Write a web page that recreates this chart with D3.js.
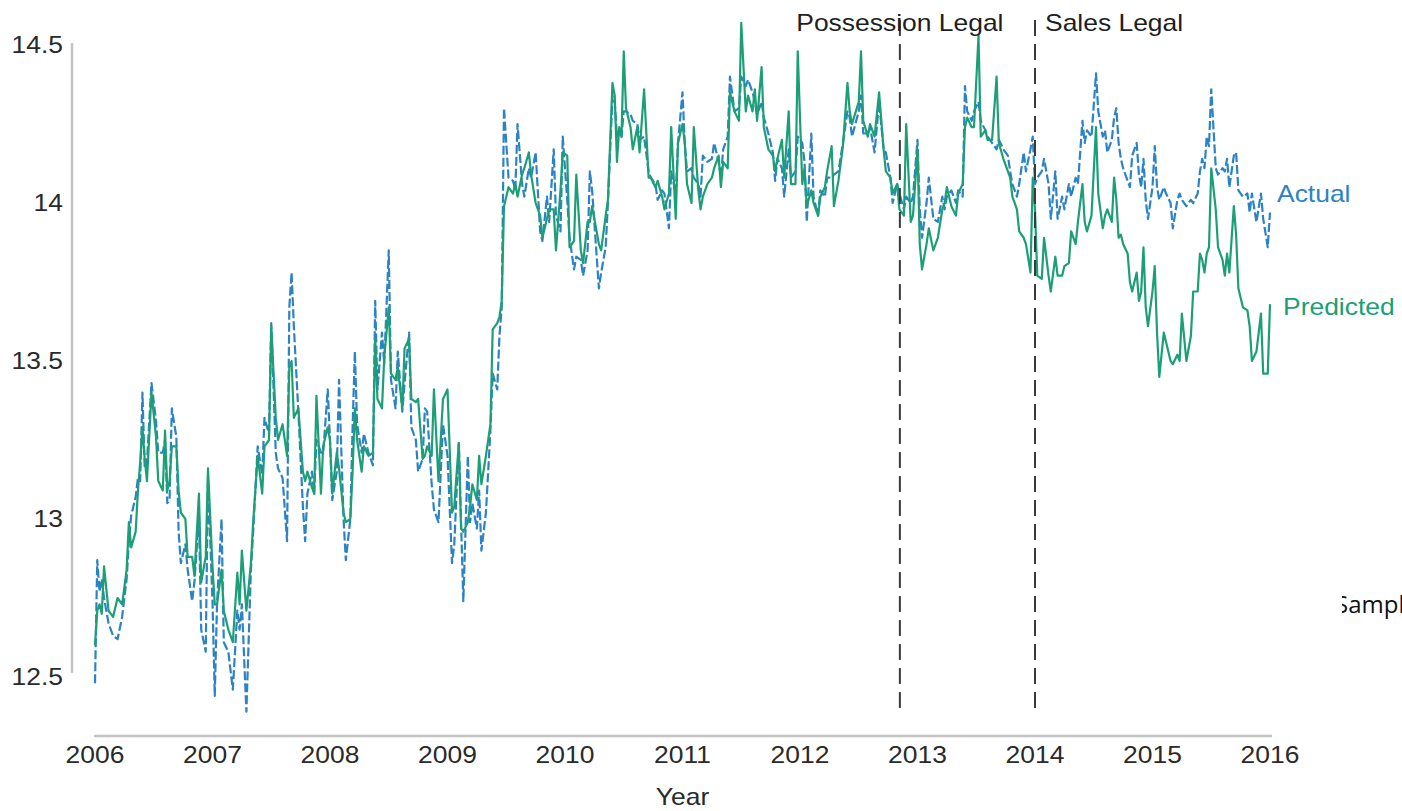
<!DOCTYPE html>
<html>
<head>
<meta charset="utf-8">
<script src="https://cdn.jsdelivr.net/npm/d3@7"></script>
<style>
  html, body { margin: 0; padding: 0; background: #fff; overflow: hidden; }
  svg text { font-family: "Liberation Sans", Arial, Helvetica, sans-serif; }
</style>
</head>
<body>
<svg id="chart" width="1402" height="811"></svg>
<script>
// weeks since the start of 2006 (52 per year)
const weeks = [
  0,1,2,3,4,6,8,10,12,14,
  15,16,18,19,20,21,22,23,25,27,
  28,30,31,32,33,34,36,37,38,40,
  41,43,44,46,47,49,50,52,53,54,
  56,57,59,61,63,64,65,67,69,70,
  72,74,75,77,78,80,81,83,85,86,
  87,88,90,92,93,94,96,97,98,100,
  101,103,104,105,107,108,110,111,113,114,
  115,116,118,119,121,123,124,125,127,128,
  130,131,133,134,136,137,139,140,142,143,
  145,146,147,149,150,152,154,156,158,159,
  161,162,163,165,166,167,169,170,171,173,
  175,176,178,179,180,181,183,185,186,187,
  189,190,192,193,195,197,198,200,201,203,
  204,206,207,209,210,212,213,215,216,218,
  219,220,223,224,226,227,229,230,231,232,
  233,234,235,237,238,240,241,243,245,246,
  248,249,251,252,254,255,257,258,260,261,
  262,264,265,267,268,269,271,273,274,276,
  277,278,280,281,283,285,286,288,289,291,
  292,293,295,296,298,300,301,302,304,305,
  307,308,310,311,313,314,315,317,318,320,
  321,323,324,326,327,329,331,333,334,335,
  338,339,340,342,343,345,347,349,350,352,
  353,355,356,358,359,361,362,364,365,366,
  368,369,371,373,375,376,377,379,381,382,
  384,385,386,388,389,391,392,394,395,397,
  399,400,402,404,405,406,408,409,411,412,
  414,415,416,417,419,420,422,423,425,426,
  428,429,431,432,434,435,437,438,439,441,
  443,444,446,447,448,450,451,452,453,454,
  455,457,458,459,461,462,463,464,465,466,
  468,469,470,471,473,474,476,477,479,480,
  481,483,485,486,488,489,490,491,492,493,
  494,496,497,499,500,501,502,504,505,506,
  508,510,511,512,514,516,517,519,520
];

const predicted = [
  12.60,12.71,12.73,12.70,12.85,12.71,12.69,12.75,12.73,12.84,
  12.99,12.91,12.96,13.09,13.18,13.29,13.19,13.12,13.40,13.26,
  13.12,13.09,13.28,13.09,13.12,13.23,13.23,13.09,13.02,13.00,
  12.88,12.88,12.82,13.08,12.80,12.88,13.16,12.85,12.73,12.73,
  12.84,12.71,12.65,12.61,12.83,12.73,12.90,12.71,12.86,12.99,
  13.20,13.08,13.23,13.25,13.61,13.32,13.25,13.30,13.20,13.48,
  13.50,13.32,13.35,13.15,13.12,13.15,13.10,13.08,13.39,13.08,
  13.23,13.29,13.25,13.08,13.21,13.16,13.02,12.99,13.00,13.15,
  13.35,13.25,13.15,13.23,13.20,13.21,13.57,13.38,13.35,13.51,
  13.67,13.46,13.44,13.48,13.35,13.54,13.57,13.38,13.37,13.38,
  13.19,13.20,13.23,13.20,13.41,13.12,13.38,13.41,13.02,13.04,
  13.24,12.97,12.96,12.99,13.04,13.11,13.06,13.20,13.11,13.20,
  13.30,13.60,13.62,13.64,13.69,13.99,14.05,14.03,14.06,14.02,
  14.09,14.11,14.16,14.09,14.00,13.96,13.89,13.95,13.98,13.98,
  13.85,14.04,14.16,14.15,13.86,13.88,14.09,13.85,13.81,13.94,
  13.94,13.99,13.87,13.85,13.96,14.01,14.38,14.34,14.13,14.24,
  14.21,14.48,14.30,14.24,14.17,14.24,14.16,14.36,14.08,14.08,
  14.05,14.07,14.02,13.98,14.03,14.24,13.95,14.19,14.25,14.19,
  14.06,14.00,14.24,14.04,13.98,14.02,14.06,14.08,14.11,14.15,
  14.05,14.13,14.11,14.35,14.29,14.26,14.57,14.29,14.34,14.29,
  14.36,14.26,14.43,14.24,14.17,14.15,14.10,14.14,14.20,14.08,
  14.29,14.06,14.06,14.48,14.06,14.11,13.99,14.04,14.00,13.96,
  14.02,14.05,14.10,14.18,13.99,14.07,14.18,14.38,14.29,14.25,
  14.32,14.48,14.26,14.21,14.25,14.21,14.35,14.17,14.10,14.08,
  14.03,14.06,13.98,13.96,14.25,13.94,13.96,14.17,13.87,13.79,
  13.87,13.92,13.85,13.89,13.98,14.00,14.05,13.99,13.96,14.03,
  14.06,14.24,14.27,14.24,14.24,14.53,14.21,14.23,14.20,14.20,
  14.40,14.19,14.14,14.10,14.08,14.02,13.98,13.91,13.89,13.87,
  13.78,14.08,13.98,13.77,13.76,13.89,13.77,13.72,13.83,13.77,
  13.77,13.80,13.81,13.91,13.87,13.94,14.06,13.94,13.91,13.96,
  14.24,14.03,13.92,13.96,13.98,13.94,14.08,14.01,13.89,13.90,
  13.87,13.84,13.75,13.72,13.78,13.69,13.72,13.86,13.67,13.61,
  13.72,13.80,13.59,13.45,13.59,13.56,13.50,13.49,13.52,13.50,
  13.65,13.50,13.58,13.72,13.72,13.84,13.82,13.78,13.84,13.86,
  14.11,13.98,13.86,13.82,13.77,13.84,13.78,13.99,13.90,13.73,
  13.67,13.66,13.61,13.50,13.53,13.65,13.46,13.46,13.68
];

const actual = [
  12.48,12.87,12.77,12.81,12.75,12.67,12.63,12.62,12.69,12.81,
  12.93,13.01,13.07,13.13,13.12,13.40,13.16,13.18,13.43,13.31,
  13.21,13.21,13.25,13.05,13.06,13.35,13.26,12.96,12.86,12.92,
  12.84,12.74,12.80,13.01,12.65,12.58,13.13,12.74,12.44,12.73,
  13.00,12.61,12.58,12.46,12.71,12.65,12.73,12.39,12.84,12.96,
  13.23,13.14,13.32,13.27,13.62,13.21,13.16,13.13,12.93,13.67,
  13.78,13.61,13.34,13.04,12.93,13.08,13.15,13.08,13.25,13.21,
  13.21,13.41,13.25,13.06,13.15,13.44,13.00,12.87,13.00,13.29,
  13.53,13.30,13.21,13.27,13.21,13.17,13.69,13.41,13.59,13.49,
  13.85,13.44,13.35,13.53,13.34,13.43,13.59,13.29,13.25,13.15,
  13.19,13.35,13.34,13.11,13.03,12.99,13.30,13.20,12.86,12.92,
  13.24,12.99,12.74,13.20,12.99,13.05,12.97,13.09,12.90,13.02,
  13.28,13.46,13.41,13.58,13.67,14.30,14.08,14.07,14.04,14.25,
  14.06,14.02,14.11,14.08,14.16,13.91,13.88,14.02,13.94,14.17,
  13.96,13.91,14.21,14.01,13.89,13.79,13.83,13.82,13.77,13.85,
  14.10,14.04,13.73,13.78,13.86,14.00,14.34,14.32,14.21,14.23,
  14.21,14.29,14.29,14.28,14.26,14.25,14.20,14.21,14.10,14.08,
  14.06,14.01,14.04,14.03,13.92,14.10,14.03,14.19,14.35,14.19,
  14.10,14.11,14.08,14.06,14.02,14.15,14.13,14.14,14.19,14.13,
  14.08,14.17,14.21,14.40,14.29,14.30,14.40,14.37,14.39,14.35,
  14.32,14.28,14.32,14.27,14.22,14.16,14.07,14.14,14.11,14.02,
  14.17,14.08,14.10,14.21,14.19,14.13,13.94,14.22,14.02,13.96,
  14.04,14.02,14.08,14.08,14.09,14.10,14.19,14.29,14.27,14.21,
  14.29,14.34,14.22,14.22,14.24,14.16,14.32,14.17,14.16,14.08,
  14.00,14.06,14.03,13.98,14.02,14.00,14.02,14.20,13.98,13.89,
  14.00,14.08,13.95,13.94,14.02,13.98,14.02,14.04,14.00,14.04,
  14.02,14.37,14.29,14.26,14.29,14.32,14.26,14.23,14.21,14.19,
  14.17,14.20,14.17,14.15,14.10,14.06,14.02,14.06,14.16,14.10,
  14.17,14.21,14.06,14.08,14.10,14.14,14.06,13.95,14.10,13.95,
  14.02,13.98,14.06,14.02,14.08,14.06,14.26,14.19,14.23,14.21,
  14.41,14.29,14.21,14.23,14.16,14.20,14.27,14.30,14.19,14.14,
  14.11,14.07,14.05,14.15,14.19,14.09,14.05,14.14,14.01,13.95,
  14.05,14.18,14.05,14.01,14.05,14.03,14.00,13.92,14.01,14.03,
  14.01,13.99,14.01,14.00,14.03,14.10,14.14,14.11,14.21,14.18,
  14.36,14.11,14.09,14.11,14.10,14.14,14.05,14.15,14.16,14.04,
  14.02,14.03,13.97,14.03,13.94,14.03,13.95,13.86,13.97
];

const xTicks = [2006, 2007, 2008, 2009, 2010, 2011, 2012, 2013, 2014, 2015, 2016];
const yTicks = [12.5, 13, 13.5, 14, 14.5];
const eventYears = [2012.85, 2014.0];
const eventLabels = ["Possession Legal", "Sales Legal"];
const seriesNames = ["Actual", "Predicted"];

const svg = d3.select("#chart");
const blue = "#2b83c6";
const green = "#1c9f76";
const stretch = 1.15;

const x = d3.scaleLinear().domain([2006, 2016]).range([95, 1270]);
const y = d3.scaleLinear().domain([12.5, 14.5]).range([677, 45]);

const toPoints = vals => vals.map((v, i) => ({t: 2006 + weeks[i] / 52, v: v}));
const line = d3.line().x(d => x(d.t)).y(d => y(d.v));

// wide-ish Helvetica look: stretch text horizontally
function label(parent, px, py, str, anchor) {
  return parent.append("text")
    .attr("transform", `translate(${px},${py}) scale(${stretch},1)`)
    .attr("text-anchor", anchor)
    .attr("font-size", 23)
    .text(str);
}

// axes (plain lines, no tick marks)
svg.append("line")
  .attr("x1", 72).attr("x2", 72)
  .attr("y1", y(14.5) - 2).attr("y2", y(12.5) - 4)
  .attr("stroke", "#c4c4c4").attr("stroke-width", 2.5);

svg.append("line")
  .attr("x1", x(2006) - 1).attr("x2", x(2016) + 2)
  .attr("y1", 736).attr("y2", 736)
  .attr("stroke", "#c4c4c4").attr("stroke-width", 2.5);

const yLab = svg.append("g").attr("fill", "#2a2a2a");
yTicks.forEach(t => {
  label(yLab, 63, y(t), d3.format("")(t), "end").attr("dy", "0.35em");
});

const xLab = svg.append("g").attr("fill", "#2a2a2a");
xTicks.forEach(t => {
  label(xLab, x(t), 763, d3.format("d")(t), "middle");
});
label(xLab, (x(2006) + x(2016)) / 2, 805, "Year", "middle");

// series
svg.append("path")
  .datum(toPoints(actual))
  .attr("d", line)
  .attr("fill", "none")
  .attr("stroke", blue)
  .attr("stroke-width", 2.2)
  .attr("stroke-dasharray", "9,3")
  .attr("stroke-linejoin", "round");

svg.append("path")
  .datum(toPoints(predicted))
  .attr("d", line)
  .attr("fill", "none")
  .attr("stroke", green)
  .attr("stroke-width", 2.2)
  .attr("stroke-linejoin", "round");

// legalisation markers
const anchors = ["middle", "start"];
const labelDx = [0, 10];
eventYears.forEach((yr, i) => {
  svg.append("line")
    .attr("x1", x(yr)).attr("x2", x(yr))
    .attr("y1", 20).attr("y2", 715)
    .attr("stroke", "#3a3a3a")
    .attr("stroke-width", 2)
    .attr("stroke-dasharray", "16,8");
  label(svg, x(yr) + labelDx[i], 31, eventLabels[i], anchors[i]).attr("fill", "#1e1e1e");
});

// series labels at the right end
label(svg, x(2016) + 7, y(14.03), seriesNames[0], "start")
  .attr("dy", "0.35em").attr("fill", blue);
label(svg, x(2016) + 13, y(13.67), seriesNames[1], "start")
  .attr("dy", "0.35em").attr("fill", green);

// stray text cut by the right edge, as in the original image
svg.append("clipPath").attr("id", "edgeClip")
  .append("rect").attr("x", 1342).attr("y", 580).attr("width", 60).attr("height", 50);
svg.append("text")
  .attr("clip-path", "url(#edgeClip)")
  .attr("x", 1335).attr("y", 613)
  .attr("font-size", 24)
  .style("font-family", "'Open Sans', 'Noto Sans', sans-serif")
  .attr("fill", "#111")
  .text("Sample");
</script>
</body>
</html>
